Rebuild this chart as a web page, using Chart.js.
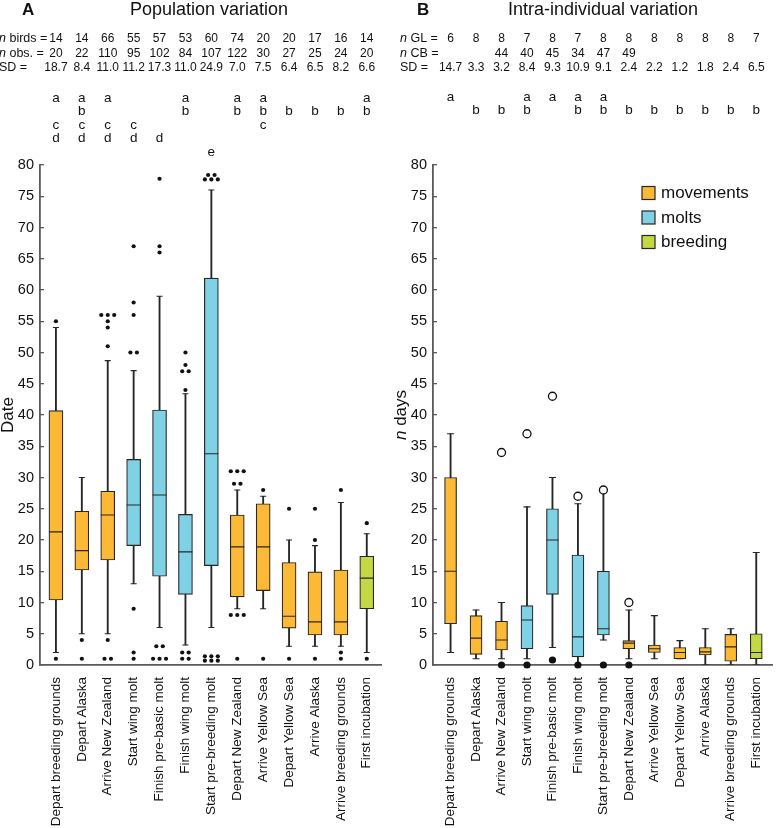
<!DOCTYPE html>
<html>
<head>
<meta charset="utf-8">
<script src="https://cdn.jsdelivr.net/npm/chart.js@4.4.1/dist/chart.umd.min.js"></script>
<style>
  html, body { margin: 0; padding: 0; background: #fff; }
  #wrap { position: relative; width: 780px; height: 828px; }
  #wrap canvas { position: absolute; top: 0; }
</style>
</head>
<body>
<div id="wrap">
  <canvas id="chartA" width="390" height="828" style="left:0"></canvas>
  <canvas id="chartB" width="390" height="828" style="left:390px"></canvas>
</div>
<script>
// ---- shared categories ----
const categories = ['Depart breeding grounds', 'Depart Alaska', 'Arrive New Zealand', 'Start wing molt',
  'Finish pre-basic molt', 'Finish wing molt', 'Start pre-breeding molt', 'Depart New Zealand',
  'Arrive Yellow Sea', 'Depart Yellow Sea', 'Arrive Alaska', 'Arrive breeding grounds', 'First incubation'];
const groups = ['movements', 'movements', 'movements', 'molts', 'molts', 'molts', 'molts',
  'movements', 'movements', 'movements', 'movements', 'movements', 'breeding'];
const legendLabels = ['movements', 'molts', 'breeding'];
const yTicks = [0, 5, 10, 15, 20, 25, 30, 35, 40, 45, 50, 55, 60, 65, 70, 75, 80];

// ---- A: population variation ----
const popBirds = [14, 14, 66, 55, 57, 53, 60, 74, 20, 20, 17, 16, 14];
const popObs = [20, 22, 110, 95, 102, 84, 107, 122, 30, 27, 25, 24, 20];
const popSD = ['18.7', '8.4', '11.0', '11.2', '17.3', '11.0', '24.9', '7.0', '7.5', '6.4', '6.5', '8.2', '6.6'];
const popLetters = ['acd', 'abcd', 'acd', 'cd', 'd', 'ab', 'e', 'ab', 'abc', 'b', 'b', 'b', 'ab'];
const popLow = [2, 5, 5, 13, 6, 3.2, 6, 9, 9, 3, 3, 3, 2];
const popQ1 = [10.4, 15.2, 16.8, 19.1, 14.2, 11.3, 15.9, 10.9, 11.9, 5.9, 4.8, 4.8, 9.0];
const popMedian = [21.3, 18.3, 24.0, 25.6, 27.2, 18.1, 33.8, 18.9, 18.9, 7.8, 6.9, 6.9, 13.9];
const popQ3 = [40.7, 24.6, 27.8, 32.9, 40.8, 24.1, 61.9, 24.0, 25.8, 16.4, 14.9, 15.2, 17.4];
const popHigh = [54, 30, 48.7, 47.1, 59, 43.4, 76, 28, 27, 20, 19.1, 26, 21];
const popOutliers = [
  [55, 1],
  [4, 1],
  [56, 56, 56, 55, 54, 51, 4, 1, 1],
  [67, 58, 56, 50, 50, 9, 2, 1],
  [77.8, 67, 66, 3, 3, 1, 1, 1],
  [50, 48, 47, 47, 44, 2, 2, 1, 1],
  [78.4, 78.4, 77.7, 77.7, 77.7, 1.4, 1.4, 1.4, 0.7, 0.7, 0.7],
  [31, 31, 31, 29, 29, 8, 8, 8, 1],
  [28, 1],
  [25, 1],
  [25, 20, 1],
  [28, 2, 1],
  [22.7, 1]
];

// ---- B: intra-individual variation ----
const indGL = [6, 8, 8, 7, 8, 7, 8, 8, 8, 8, 8, 8, 7];
const indCB = ['', '', 44, 40, 45, 34, 47, 49, '', '', '', '', ''];
const indSD = ['14.7', '3.3', '3.2', '8.4', '9.3', '10.9', '9.1', '2.4', '2.2', '1.2', '1.8', '2.4', '6.5'];
const indLetters = ['a', 'b', 'b', 'ab', 'a', 'ab', 'ab', 'b', 'b', 'b', 'b', 'b', 'b'];
const indLow = [2, 1, 1, 1, 2.8, 0, 4, 1, 1, 1, 0, 0, 0];
const indQ1 = [6.6, 1.7, 2.4, 2.6, 11.3, 1.3, 4.8, 2.6, 2.0, 1.0, 1.6, 0.6, 1.0];
const indMedian = [15, 4.3, 4.0, 7.2, 20, 4.5, 5.8, 3.5, 2.6, 2.0, 2.1, 2.9, 2.0];
const indQ3 = [30, 7.9, 7.0, 9.5, 25, 17.6, 15, 3.9, 3.2, 2.8, 2.8, 4.9, 5.0];
const indHigh = [37, 8.8, 10, 25.3, 30, 25.8, 27.6, 8.8, 7.9, 3.9, 5.8, 5.8, 18];
const indOpen = [[], [], [34], [37], [43], [27], [28], [10], [], [], [], [], []];
const indFilled = [[], [], [0], [0], [0.8], [0], [0], [0], [], [], [], [], []];

const COLORS = { movements: '#fcb936', molts: '#7fd2e6', breeding: '#c3d843' };
const INK = '#262626';
const AXIS = '#5a5a5a';
const TEXT = '#111111';
const FONT = '"Liberation Sans", Arial, Helvetica, sans-serif';

// side by side dots for repeated outlier values
function spread(lists, step) {
  const pts = [];
  lists.forEach((vals, i) => {
    const counts = new Map();
    vals.forEach(v => counts.set(v, (counts.get(v) || 0) + 1));
    counts.forEach((n, v) => {
      for (let j = 0; j < n; j++) pts.push({ x: i + 1 + (j - (n - 1) / 2) * step, y: v });
    });
  });
  return pts;
}

function at(values) {
  return values.map((v, i) => ({ x: i + 1, y: v }));
}

function drawLabel(ctx, italic, rest, x, y, size, align) {
  ctx.font = 'italic ' + size + 'px ' + FONT;
  const wi = italic ? ctx.measureText(italic).width : 0;
  ctx.font = size + 'px ' + FONT;
  const wr = ctx.measureText(rest).width;
  let x0 = align === 'center' ? x - (wi + wr) / 2 : x;
  ctx.textAlign = 'left';
  if (italic) {
    ctx.font = 'italic ' + size + 'px ' + FONT;
    ctx.fillText(italic, x0, y);
  }
  ctx.font = size + 'px ' + FONT;
  ctx.fillText(rest, x0 + wi, y);
}

function makePanel(canvasId, p) {
  const datasets = [
    { type: 'bar', data: p.low.map((v, i) => ({ x: i + 1, y: [v, p.high[i]] })),
      backgroundColor: INK, barThickness: 1.2, grouped: false, order: 5 },
    { type: 'bar', data: p.q1.map((v, i) => ({ x: i + 1, y: [v, p.q3[i]] })),
      backgroundColor: groups.map(g => COLORS[g]), borderColor: INK, borderWidth: 1.2,
      borderSkipped: false, barThickness: p.boxWidth, grouped: false, order: 4 },
    { type: 'scatter', data: at(p.median), pointStyle: 'line', pointRadius: p.boxWidth / 2,
      pointBorderColor: INK, pointBorderWidth: 1.2, order: 3 },
    { type: 'scatter', data: at(p.low).concat(at(p.high)), pointStyle: 'line', pointRadius: p.capRadius,
      pointBorderColor: INK, pointBorderWidth: 1.2, order: 3 },
  ].concat(p.outliers);

  const header = {
    id: 'header' + canvasId,
    afterDraw(chart) {
      const ctx = chart.ctx;
      const xs = chart.scales.x;
      const ys = chart.scales.y;
      const colX = i => xs.getPixelForValue(i + 1);
      ctx.save();
      ctx.fillStyle = TEXT;
      ctx.textBaseline = 'top';
      ctx.textAlign = 'left';
      ctx.font = 'bold 17px ' + FONT;
      ctx.fillText(p.letter, p.letterX, 2);
      ctx.textAlign = 'center';
      ctx.font = '18px ' + FONT;
      ctx.fillText(p.title, p.titleX, 1);

      ctx.textBaseline = 'middle';
      p.rows.forEach((row, r) => {
        const y = 39 + r * 14.5;
        drawLabel(ctx, row.italic, row.rest, p.labelX, y, 12.5, 'left');
        ctx.textAlign = 'center';
        ctx.font = '12px ' + FONT;
        row.values.forEach((v, i) => ctx.fillText(String(v), colX(i), y));
      });

      ctx.font = '13.5px ' + FONT;
      ctx.textAlign = 'center';
      p.letters.forEach((s, i) => {
        for (const ch of s) {
          const k = ch.charCodeAt(0) - 97;
          ctx.fillText(ch, colX(i), p.letterY + k * 13.5);
        }
      });

      // y axis title
      ctx.save();
      ctx.translate(p.yTitleX, (ys.top + ys.bottom) / 2);
      ctx.rotate(-Math.PI / 2);
      drawLabel(ctx, p.yTitle[0], p.yTitle[1], 0, 0, 17, 'center');
      ctx.restore();

      if (p.legend) {
        legendLabels.forEach((name, k) => {
          const y = p.legend.y + k * 24.5;
          ctx.fillStyle = COLORS[name];
          ctx.fillRect(p.legend.x, y - 6.5, 13, 13);
          ctx.strokeStyle = INK;
          ctx.lineWidth = 1.2;
          ctx.strokeRect(p.legend.x, y - 6.5, 13, 13);
          ctx.fillStyle = TEXT;
          ctx.font = '17px ' + FONT;
          ctx.textAlign = 'left';
          ctx.fillText(name, p.legend.x + 19, y + 0.5);
        });
      }
      ctx.restore();
    }
  };

  return new Chart(document.getElementById(canvasId), {
    type: 'bar',
    data: { datasets },
    options: {
      responsive: false,
      animation: false,
      events: [],
      layout: { padding: { top: 165, right: p.padRight, left: 0, bottom: 0 } },
      plugins: { legend: { display: false }, tooltip: { enabled: false } },
      scales: {
        x: {
          type: 'linear',
          min: p.xMin,
          max: p.xMax,
          offset: false,
          grid: { display: false, drawTicks: false },
          border: { display: true, color: AXIS, width: 1.8 },
          afterBuildTicks: s => { s.ticks = categories.map((c, i) => ({ value: i + 1 })); },
          afterFit: s => { s.height = 163; s.paddingLeft = 0; s.paddingRight = 0; },
          ticks: {
            autoSkip: false,
            minRotation: 90,
            maxRotation: 90,
            padding: 12,
            color: TEXT,
            font: { family: FONT, size: 13.5 },
            callback: v => categories[Math.round(v) - 1]
          }
        },
        y: {
          min: 0,
          max: 80,
          afterBuildTicks: s => { s.ticks = yTicks.map(v => ({ value: v })); },
          afterFit: s => { s.width = p.yWidth; s.paddingTop = 0; s.paddingBottom = 0; },
          grid: { display: true, drawOnChartArea: false, drawTicks: true, tickLength: -4, color: AXIS, lineWidth: 1.3 },
          border: { display: true, color: AXIS, width: 1.8 },
          ticks: { padding: 10, color: TEXT, font: { family: FONT, size: 14.5 } }
        }
      }
    },
    plugins: [header]
  });
}

makePanel('chartA', {
  letter: 'A', letterX: 22, title: 'Population variation', titleX: 209,
  labelX: -1,
  rows: [
    { italic: 'n', rest: ' birds =', values: popBirds },
    { italic: 'n', rest: ' obs. =', values: popObs },
    { italic: '', rest: 'SD =', values: popSD }
  ],
  letters: popLetters, letterY: 98,
  yTitle: ['', 'Date'], yTitleX: 8.5,
  low: popLow, q1: popQ1, median: popMedian, q3: popQ3, high: popHigh,
  boxWidth: 14, capRadius: 3,
  xMin: 0.385, xMax: 13.58, yWidth: 40, padRight: 7,
  outliers: [
    { type: 'scatter', data: spread(popOutliers, 0.25), pointRadius: 2.1, pointBackgroundColor: '#111',
      pointBorderWidth: 0, clip: false, order: 1 }
  ]
});

makePanel('chartB', {
  letter: 'B', letterX: 27, title: 'Intra-individual variation', titleX: 213,
  labelX: 10,
  rows: [
    { italic: 'n', rest: ' GL =', values: indGL },
    { italic: 'n', rest: ' CB =', values: indCB },
    { italic: '', rest: 'SD =', values: indSD }
  ],
  letters: indLetters, letterY: 97,
  yTitle: ['n', ' days'], yTitleX: 11,
  low: indLow, q1: indQ1, median: indMedian, q3: indQ3, high: indHigh,
  boxWidth: 12, capRadius: 3.5,
  xMin: 0.31, xMax: 13.65, yWidth: 43, padRight: 0,
  legend: { x: 252, y: 193 },
  outliers: [
    { type: 'scatter', data: spread(indOpen, 0.25), pointRadius: 4, pointBackgroundColor: '#fff',
      pointBorderColor: '#111', pointBorderWidth: 1.3, clip: false, order: 1 },
    { type: 'scatter', data: spread(indFilled, 0.25), pointRadius: 3.6, pointBackgroundColor: '#111',
      pointBorderWidth: 0, clip: false, order: 1 }
  ]
});
</script>
</body>
</html>
